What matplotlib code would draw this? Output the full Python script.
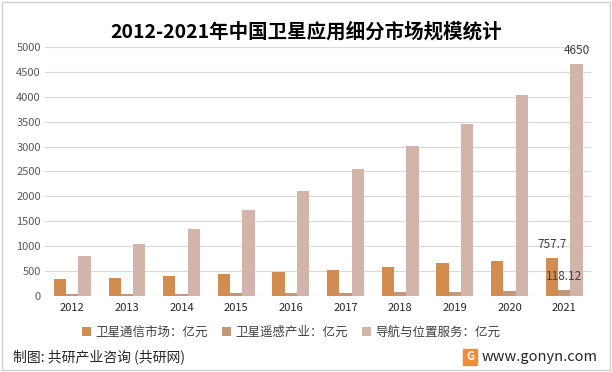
import numpy as np
import matplotlib
matplotlib.use("Agg")
import matplotlib.pyplot as plt
from matplotlib.patches import Rectangle

plt.rcParams["font.family"] = ["Noto Sans CJK SC", "DejaVu Sans"]

years = ["2012", "2013", "2014", "2015", "2016", "2017", "2018", "2019", "2020", "2021"]
comm = [345, 360, 410, 450, 480, 520, 580, 660, 700, 757.7]
remote = [35, 40, 45, 55, 60, 65, 75, 90, 95, 118.12]
navi = [810, 1040, 1343, 1735, 2118, 2550, 3016, 3450, 4033, 4650]
series_names = ["卫星通信市场：亿元", "卫星遥感产业：亿元", "导航与位置服务：亿元"]
colors = ["#D28C4F", "#C4967A", "#D2B4AA"]

fig = plt.figure(figsize=(6.12, 3.72), dpi=100)
ax = fig.add_axes([0.0735, 0.204, 0.893, 0.670])

x = np.arange(len(years))
w = 0.225
data = [comm, remote, navi]
bars = []
for i, (vals, c, name) in enumerate(zip(data, colors, series_names)):
    b = ax.bar(x + (i - 1) * w, vals, w, color=c, label=name, zorder=3)
    bars.append(b)

# labels on the last year
for i, vals in enumerate(data):
    lbl = "{:g}".format(vals[-1])
    ax.annotate(lbl, (x[-1] + (i - 1) * w, vals[-1]), xytext=(0, 5),
                textcoords="offset points", ha="center", va="bottom",
                fontsize=8.5, color="#404040", zorder=4)

ax.set_ylim(0, 5000)
ax.set_xlim(-0.5, len(years) - 0.5)
ax.set_yticks(np.arange(0, 5001, 500))
ax.set_xticks(x)
ax.set_xticklabels(years)
ax.yaxis.grid(True, color="#D9D9D9", linewidth=0.8, zorder=0)
for s in ax.spines.values():
    s.set_visible(False)
ax.tick_params(axis="y", length=0, labelsize=8, labelcolor="#595959", pad=3)
ax.tick_params(axis="x", length=0, labelsize=8, labelcolor="#262626", pad=5)

fig.text(0.5, 0.915, "2012-2021年中国卫星应用细分市场规模统计", ha="center", va="center",
         fontsize=14, fontweight="bold", color="#000000")

fig.legend(handles=bars, labels=series_names, loc="center", bbox_to_anchor=(0.476, 0.107),
           ncol=3, frameon=False, fontsize=9, handlelength=0.7, handleheight=0.7,
           columnspacing=1.1, handletextpad=0.4, labelcolor="#404040")

fig.text(0.022, 0.04, "制图: 共研产业咨询 (共研网)", ha="left", va="center",
         fontsize=10, color="#262626")
fig.text(0.977, 0.04, "www.gonyn.com", ha="right", va="center",
         fontsize=10.5, color="#262626")
fig.patches.append(Rectangle((0.757, 0.018), 0.022, 0.045, transform=fig.transFigure,
                             color="#F08A3C", zorder=3))
fig.text(0.768, 0.041, "G", ha="center", va="center", fontsize=8,
         fontweight="bold", color="white", zorder=4)

fig.patches.append(Rectangle((0.004, 0.006), 0.992, 0.988, transform=fig.transFigure,
                             fill=False, edgecolor="#D0D0D0", linewidth=1))

fig.savefig("out.png", dpi=100)
